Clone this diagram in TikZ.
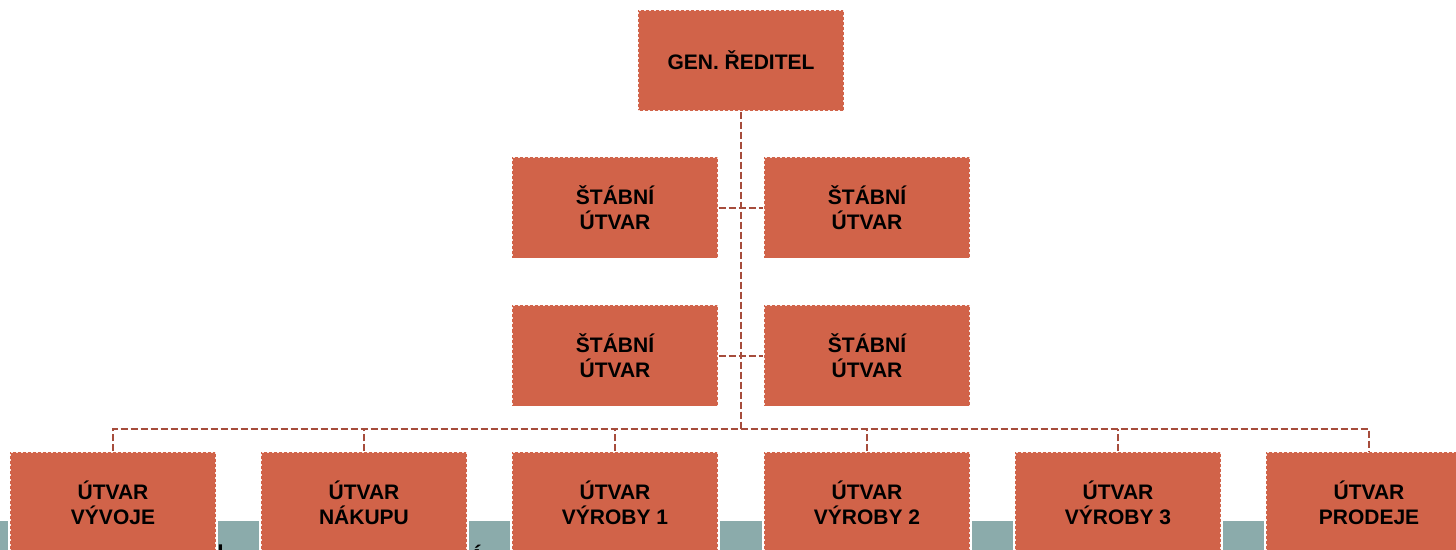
\documentclass[tikz,border=0pt]{standalone}
\usepackage{fontspec}
\setmainfont{Liberation Sans}
\definecolor{boxfill}{RGB}{209,99,73}
\definecolor{linkcol}{RGB}{166,76,60}
\definecolor{bandcol}{RGB}{139,171,171}
\begin{document}
\begin{tikzpicture}[x=0.5pt,y=-0.5pt,
  unit/.style={rectangle,fill=boxfill,draw=white,draw opacity=0.85,
    line width=0.6pt,dash pattern=on 1pt off 1.5pt,
    minimum width=103pt,minimum height=50.5pt,inner sep=0pt,
    align=center,text=black,
    font=\bfseries\fontsize{10.5}{12.4}\selectfont},
  trunk/.style={draw=linkcol,line width=1.4pt,dash pattern=on 3.5pt off 1.5pt},
  link/.style={draw=linkcol,line width=0.9pt,dash pattern=on 3.5pt off 1.5pt},
  band/.style={fill=bandcol,draw=none},
  frag/.style={inner sep=0pt,anchor=base,text=black,
    font=\bfseries\fontsize{11.5}{13}\selectfont}]
\useasboundingbox (0,0) rectangle (1456,550);

% strip behind the lowest row
\fill[band] (0,521) rectangle (8,552);
\fill[band] (218,521) rectangle (259,552);
\fill[band] (469,521) rectangle (510,552);
\fill[band] (720,521) rectangle (762,552);
\fill[band] (972,521) rectangle (1013,552);
\fill[band] (1223,521) rectangle (1264,552);
\node[frag] (fragA) at (220.5,561) {l};
\node[frag] (fragB) at (477,565) {Á};

% director and staff units
\node[unit] (gen) at (741,60.5) {GEN. ŘEDITEL};
\node[unit] (s1l) at (615,208) {ŠTÁBNÍ\\ÚTVAR};
\node[unit] (s1r) at (867,208) {ŠTÁBNÍ\\ÚTVAR};
\node[unit] (s2l) at (615,356) {ŠTÁBNÍ\\ÚTVAR};
\node[unit] (s2r) at (867,356) {ŠTÁBNÍ\\ÚTVAR};

% line departments
\node[unit] (b1) at (113,502.5) {ÚTVAR\\VÝVOJE};
\node[unit] (b2) at (364,502.5) {ÚTVAR\\NÁKUPU};
\node[unit] (b3) at (615,502.5) {ÚTVAR\\VÝROBY 1};
\node[unit] (b4) at (867,502.5) {ÚTVAR\\VÝROBY 2};
\node[unit] (b5) at (1118,502.5) {ÚTVAR\\VÝROBY 3};
\node[unit] (b6) at (1369,502.5) {ÚTVAR\\PRODEJE};

% connectors
\coordinate (bus) at (741,429);
\draw[link] (s1l.east) -- (s1r.west);
\draw[link] (s2l.east) -- (s2r.west);
\draw[link] (b1.north) |- (bus) -| (b6.north);
\foreach \b in {b2,b3,b4,b5}
  \draw[link] (\b.north) -- (\b.north |- bus);
\draw[trunk] (gen.south) -- (bus);
\end{tikzpicture}
\end{document}
